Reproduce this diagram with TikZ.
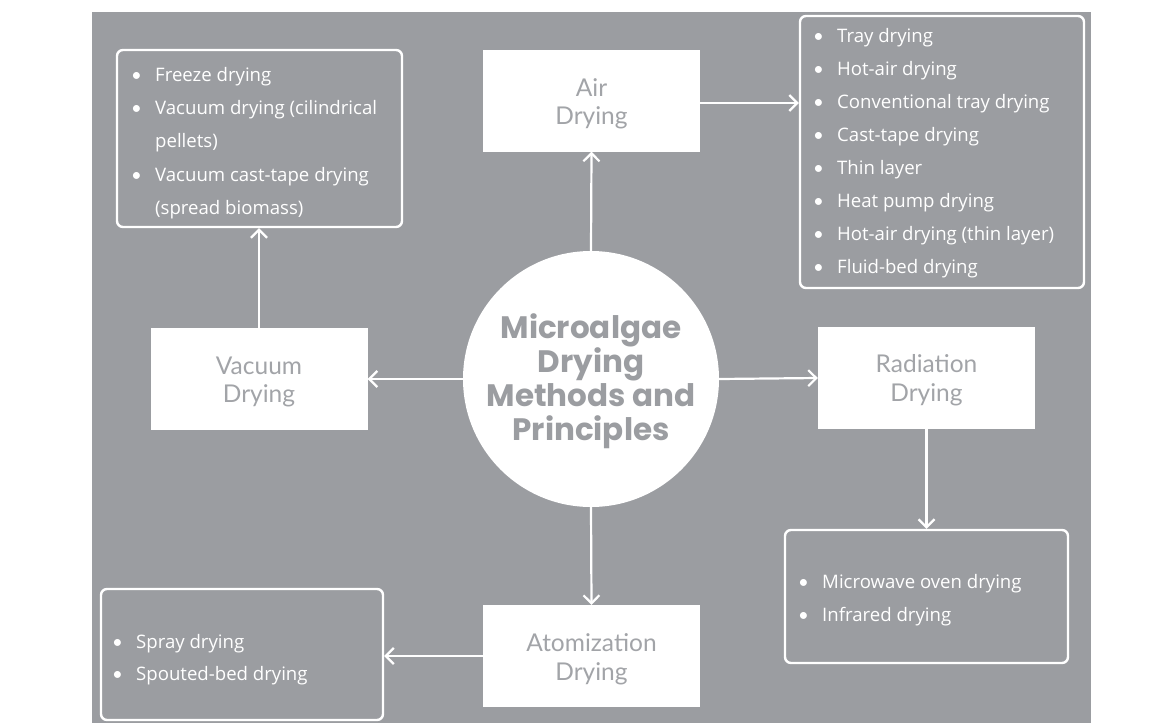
\documentclass[tikz,border=0pt]{standalone}
\usepackage{fontspec}
\setmainfont{Lato}
\newfontfamily\titlefont{Poppins}
\newfontfamily\listfont{Open Sans}
\usetikzlibrary{arrows.meta}
\definecolor{bg}{HTML}{9B9DA1}
\definecolor{lbl}{HTML}{A2A4A8}
\newcommand\bul{\makebox[24pt][l]{\rmfamily\textbullet}}
\begin{document}
\begin{tikzpicture}[x=1pt,y=-1pt,
  method/.style={fill=white, draw=none, minimum width=217pt, minimum height=102pt, inner sep=0pt},
  methodlabel/.style={align=center, inner sep=0pt, text=lbl, font=\fontsize{24.5}{28.5}\selectfont},
  listbox/.style={draw=white, line width=2.4pt, rounded corners=6pt, inner sep=0pt},
  listtext/.style={anchor=base west, inner sep=0pt, text=white, font=\listfont\fontsize{18.6}{33}\selectfont},
  arr/.style={draw=white, line width=2.2pt, -{Straight Barb[length=8pt,width=16pt]}}]
\useasboundingbox (0,0) rectangle (1164,723);
\fill[white] (0,0) rectangle (1164,723);
\fill[bg] (92,12) rectangle (1091,723);

% central hub
\node[circle, fill=white, minimum size=256pt, inner sep=0pt] (hub) at (591,379) {};
\node[align=center, text=bg, inner sep=0pt, font=\titlefont\bfseries\fontsize{31}{34}\selectfont] (hubtext) at (591,381) {Microalgae\\Drying\\Methods and\\Principles};

% method boxes
\node[method] (air) at (591.5,100.5) {};
\node[method] (vac) at (259,379) {};
\node[method] (rad) at (926.5,378) {};
\node[method] (atom) at (591.5,656) {};
\node[methodlabel] (airl) at (591.5,104) {Air\\Drying};
\node[methodlabel] (vacl) at (259,382) {Vacuum\\Drying};
\node[methodlabel] (radl) at (926.5,380) {Radiation\\Drying};
\node[methodlabel] (atoml) at (591.5,659) {Atomization\\Drying};

% list boxes
\node[listbox, minimum width=284pt, minimum height=272pt] (airlist) at (942,152) {};
\node[listbox, minimum width=285pt, minimum height=177pt] (vaclist) at (259.5,138.5) {};
\node[listbox, minimum width=283pt, minimum height=133pt] (radlist) at (926.5,596.5) {};
\node[listbox, minimum width=282pt, minimum height=131pt] (atomlist) at (242,654.5) {};

% list texts
\node[listtext] (airtext) at (813,42) {\begin{tabular}[t]{@{}l@{}l@{}}
\bul & Tray drying\\
\bul & Hot-air drying\\
\bul & Conventional tray drying\\
\bul & Cast-tape drying\\
\bul & Thin layer\\
\bul & Heat pump drying\\
\bul & Hot-air drying (thin layer)\\
\bul & Fluid-bed drying
\end{tabular}};
\node[listtext, font=\listfont\fontsize{18.6}{33.4}\selectfont] (vactext) at (131,81) {\begin{tabular}[t]{@{}l@{}l@{}}
\bul & Freeze drying\\
\bul & Vacuum drying (cilindrical\\
 & pellets)\\
\bul & Vacuum cast-tape drying\\
 & (spread biomass)
\end{tabular}};
\node[listtext] (radtext) at (798,588) {\begin{tabular}[t]{@{}l@{}l@{}}
\bul & Microwave oven drying\\
\bul & Infrared drying
\end{tabular}};
\node[listtext, font=\listfont\fontsize{18.6}{32}\selectfont] (atomtext) at (112,648) {\begin{tabular}[t]{@{}l@{}l@{}}
\bul & Spray drying\\
\bul & Spouted-bed drying
\end{tabular}};

% connectors
\draw[arr] (hub.north) -- (air.south);
\draw[arr] (hub.west) -- (vac.east);
\draw[arr] (hub.east) -- (rad.west);
\draw[arr] (hub.south) -- (atom.north);
\draw[arr] ([yshift=-2.5pt]air.east) -- ([yshift=-2.5pt]air.east -| airlist.west);
\draw[arr] (vac.north) -- (vac.north |- vaclist.south);
\draw[arr] (rad.south) -- (rad.south |- radlist.north);
\draw[arr] (atom.west) -- (atom.west -| atomlist.east);
\end{tikzpicture}
\end{document}
